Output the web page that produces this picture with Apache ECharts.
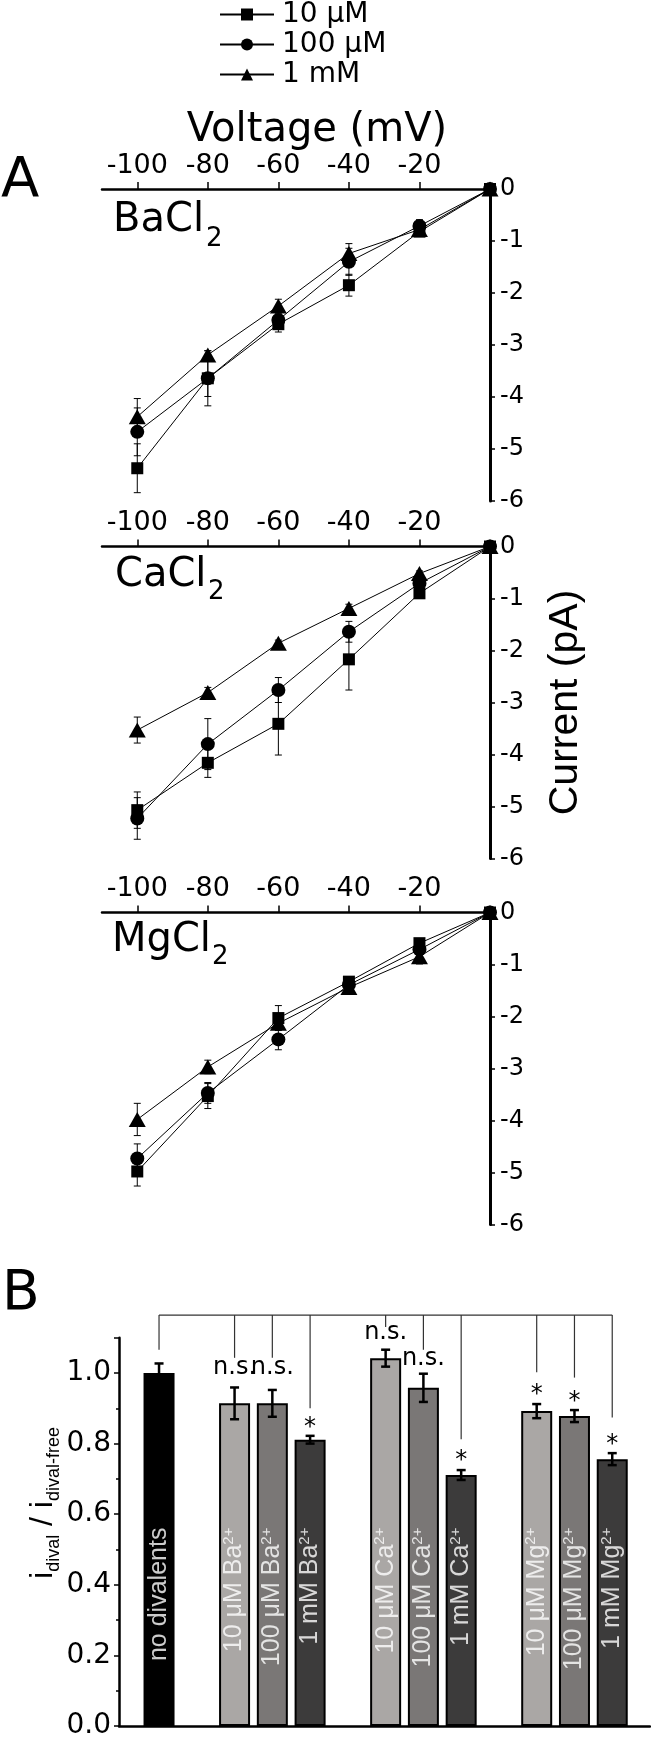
<!DOCTYPE html>
<html><head><meta charset="utf-8">
<script src="https://cdn.jsdelivr.net/npm/echarts@6/dist/echarts.min.js"></script>
<style>html,body{margin:0;padding:0;background:#fff}#c{width:651px;height:1740px}</style>
</head><body><div id="c"></div>
<script>
// ---------- DATA ----------
const voltage = [-100, -80, -60, -40, -20, 0];
const voltageTicks = [-100, -80, -60, -40, -20];
const concentrations = ['10 μM', '100 μM', '1 mM'];
const saltNames = ['BaCl', 'CaCl', 'MgCl'];

// BaCl2 currents (pA) and SEM
const ba10 = [-5.37, -3.64, -2.60, -1.85, -0.82, 0];
const ba10Err = [0.47, 0.53, 0.15, 0.21, 0.06, 0];
const ba100 = [-4.67, -3.64, -2.52, -1.40, -0.71, 0];
const ba100Err = [0.46, 0.35, 0.12, 0.26, 0.12, 0];
const ba1m = [-4.38, -3.19, -2.25, -1.24, -0.78, 0];
const ba1mErr = [0.35, 0.08, 0.13, 0.19, 0.06, 0];
// CaCl2
const ca10 = [-5.07, -4.16, -3.41, -2.17, -0.90, 0];
const ca10Err = [0.35, 0.28, 0.60, 0.59, 0.05, 0];
const ca100 = [-5.23, -3.80, -2.76, -1.64, -0.71, 0];
const ca100Err = [0.40, 0.49, 0.24, 0.20, 0.05, 0];
const ca1m = [-3.53, -2.81, -1.86, -1.19, -0.52, 0];
const ca1mErr = [0.25, 0.10, 0.06, 0.08, 0.05, 0];
// MgCl2
const mg10 = [-4.98, -3.53, -2.03, -1.33, -0.59, 0];
const mg10Err = [0.28, 0.24, 0.24, 0.05, 0.05, 0];
const mg100 = [-4.73, -3.47, -2.44, -1.39, -0.71, 0];
const mg100Err = [0.28, 0.20, 0.20, 0.05, 0.05, 0];
const mg1m = [-3.98, -2.97, -2.13, -1.44, -0.85, 0];
const mg1mErr = [0.31, 0.13, 0.10, 0.05, 0.14, 0];

// Panel B
const barPos = [0, 2, 3, 4, 6, 7, 8, 10, 11, 12];
const barValue = [1.000, 0.914, 0.914, 0.811, 1.042, 0.958, 0.711, 0.892, 0.878, 0.756];
const barError = [0.027, 0.045, 0.038, 0.011, 0.024, 0.040, 0.014, 0.020, 0.017, 0.017];
const barLabel = ['no divalents', '10 μM Ba', '100 μM Ba', '1 mM Ba', '10 μM Ca', '100 μM Ca', '1 mM Ca', '10 μM Mg', '100 μM Mg', '1 mM Mg'];
const barCharge = ['', '2+', '2+', '2+', '2+', '2+', '2+', '2+', '2+', '2+'];
const barShade = [0, 1, 2, 3, 1, 2, 3, 1, 2, 3];
const sigMark = ['', 'n.s.', 'n.s.', '*', 'n.s.', 'n.s.', '*', '*', '*', '*'];
const sigLineEnd = [1.066, 1.043, 1.043, 0.900, 1.130, 1.066, 0.812, 1.002, 0.987, 0.874];
const sigMarkY = [0, 1.009, 1.009, 0.860, 1.108, 1.035, 0.765, 0.953, 0.933, 0.812];
const bracketLevel = 1.164;
const ratioTicks = [0, 0.2, 0.4, 0.6, 0.8, 1.0];

// ---------- STYLE / LAYOUT ----------
const FONT = 'DejaVu Sans';
const RFONT = 'Liberation Sans';
const shadeColors = ['#000000', '#aaa7a5', '#7a7776', '#3c3b3b'];
const symbols = ['rect', 'circle', 'triangle'];
const symbolSizes = [12, 14, [17, 15]];
const currents = [[ba10, ba100, ba1m], [ca10, ca100, ca1m], [mg10, mg100, mg1m]];
const currentErrs = [[ba10Err, ba100Err, ba1mErr], [ca10Err, ca100Err, ca1mErr], [mg10Err, mg100Err, mg1mErr]];
const panelTops = [189, 546.5, 912.5];
const labelTopValue = 0.562;

function errRender(capW, lw) {
  return function (params, api) {
    const x = api.value(0), y = api.value(1), e = api.value(2);
    if (!e) return null;
    const t = api.coord([x, y + e]), b = api.coord([x, y - e]);
    const st = { stroke: '#000', lineWidth: lw };
    return { type: 'group', children: [
      { type: 'line', shape: { x1: t[0], y1: t[1], x2: b[0], y2: b[1] }, style: st },
      { type: 'line', shape: { x1: t[0] - capW / 2, y1: t[1], x2: t[0] + capW / 2, y2: t[1] }, style: st },
      { type: 'line', shape: { x1: b[0] - capW / 2, y1: b[1], x2: b[0] + capW / 2, y2: b[1] }, style: st }
    ]};
  };
}

const grid = [], xAxis = [], yAxis = [], series = [];
for (let p = 0; p < 3; p++) {
  grid.push({ left: 102, top: panelTops[p], width: 388, height: 312 });
  const xa = {
    type: 'value', gridIndex: p, position: 'top', min: -110, max: 0,
    axisLine: { onZero: false, lineStyle: { color: '#000', width: 2.5 } },
    axisTick: { show: true, customValues: voltageTicks, length: 7, lineStyle: { color: '#000', width: 1.5 } },
    axisLabel: { customValues: voltageTicks, fontSize: 27, fontFamily: FONT, color: '#000', margin: 10 },
    splitLine: { show: false }
  };
  if (p === 0) {
    xa.name = 'Voltage (mV)';
    xa.nameLocation = 'middle';
    xa.nameGap = 31;
    xa.nameTextStyle = { fontSize: 40, fontFamily: FONT, color: '#000', padding: [0, 0, 0, 42] };
  }
  xAxis.push(xa);
  const ya = {
    type: 'value', gridIndex: p, position: 'right', min: -6, max: 0, interval: 1,
    axisLine: { show: true, onZero: false, lineStyle: { color: '#000', width: 3 } },
    axisTick: { show: true, length: 5, lineStyle: { color: '#000', width: 1.5 } },
    axisLabel: { fontSize: 24, fontFamily: FONT, color: '#000', margin: 10 },
    splitLine: { show: false }
  };
  if (p === 1) {
    ya.name = 'Current (pA)';
    ya.nameLocation = 'middle';
    ya.nameRotate = 90;
    ya.nameGap = 55;
    ya.nameTextStyle = { fontSize: 41, fontFamily: RFONT, color: '#000' };
  }
  yAxis.push(ya);
  for (let c = 0; c < 3; c++) {
    series.push({
      type: 'custom', xAxisIndex: p, yAxisIndex: p, silent: true, z: 4, clip: false,
      data: voltage.map((v, i) => [v, currents[p][c][i], currentErrs[p][c][i]]),
      encode: { x: 0, y: 1 },
      renderItem: errRender(7, 1)
    });
    series.push({
      type: 'line', name: concentrations[c], xAxisIndex: p, yAxisIndex: p, z: 5, clip: false,
      data: voltage.map((v, i) => [v, currents[p][c][i]]),
      symbol: symbols[c], symbolSize: symbolSizes[c], showSymbol: true,
      itemStyle: { color: '#000' }, lineStyle: { color: '#000', width: 1 },
      emphasis: { disabled: true }
    });
  }
}

// Panel B
grid.push({ left: 119, top: 1337.7, width: 531, height: 391.3 });
xAxis.push({
  type: 'value', gridIndex: 3, min: -1.06, max: 13,
  axisLine: { onZero: false, lineStyle: { color: '#000', width: 2.5 } },
  axisTick: { show: false }, axisLabel: { show: false }, splitLine: { show: false }
});
yAxis.push({
  type: 'value', gridIndex: 3, min: 0, max: 1.1, interval: 0.2,
  axisLine: { show: true, onZero: false, lineStyle: { color: '#000', width: 2.5 } },
  axisTick: { show: true, length: 5, lineStyle: { color: '#000', width: 1.5 } },
  minorTick: { show: true, splitNumber: 2, length: 3, lineStyle: { color: '#000', width: 1.5 } },
  axisLabel: { fontSize: 28, fontFamily: FONT, color: '#000', margin: 8,
    formatter: v => (ratioTicks.some(t => Math.abs(t - v) < 1e-6) ? v.toFixed(1) : '') },
  splitLine: { show: false }
});

series.push({
  type: 'bar', xAxisIndex: 3, yAxisIndex: 3, barWidth: 31, z: 2,
  data: barPos.map((p, i) => ({ value: [p, barValue[i]], itemStyle: { color: shadeColors[barShade[i]] } })),
  itemStyle: { borderColor: '#000', borderWidth: 2 },
  emphasis: { disabled: true }
});
series.push({
  type: 'custom', xAxisIndex: 3, yAxisIndex: 3, silent: true, z: 3, clip: false,
  data: barPos.map((p, i) => [p, barValue[i], barError[i]]),
  encode: { x: 0, y: 1 },
  renderItem: errRender(9, 2.5)
});
series.push({
  type: 'scatter', xAxisIndex: 3, yAxisIndex: 3, silent: true, z: 6,
  symbolSize: 1, itemStyle: { color: 'transparent' },
  data: barPos.map((p, i) => ({
    value: [p, labelTopValue],
    label: { formatter: barCharge[i] ? '{t|' + barLabel[i] + '}{s|' + barCharge[i] + '}' : '{t|' + barLabel[i] + '}' }
  })),
  label: {
    show: true, position: 'inside', rotate: 90, align: 'right', verticalAlign: 'middle', color: '#fff',
    rich: {
      t: { fontSize: 25, fontFamily: RFONT, color: '#fff', lineHeight: 26, verticalAlign: 'middle' },
      s: { fontSize: 15, fontFamily: RFONT, color: '#fff', lineHeight: 26, verticalAlign: 'top' }
    }
  }
});
series.push({
  type: 'custom', xAxisIndex: 3, yAxisIndex: 3, silent: true, z: 5, clip: false,
  data: barPos.map((p, i) => [p, sigLineEnd[i], sigMarkY[i]]),
  encode: { x: 0, y: 1 },
  renderItem: function (params, api) {
    const i = params.dataIndex;
    const x = api.value(0);
    const top = api.coord([x, bracketLevel]);
    const bot = api.coord([x, api.value(1)]);
    const st = { stroke: '#333', lineWidth: 1.2 };
    const children = [{ type: 'line', shape: { x1: top[0], y1: top[1], x2: bot[0], y2: bot[1] }, style: st }];
    if (i === 0) {
      const r = api.coord([barPos[barPos.length - 1], bracketLevel]);
      children.push({ type: 'line', shape: { x1: top[0], y1: top[1], x2: r[0], y2: r[1] }, style: st });
    }
    if (sigMark[i]) {
      const m = api.coord([x, api.value(2)]);
      const star = sigMark[i] === '*';
      children.push({ type: 'text', x: m[0], y: m[1] + (star ? 5 : -2),
        style: { text: sigMark[i], fontSize: 24, fontFamily: FONT, fill: '#000',
          align: 'center', verticalAlign: 'middle', textAlign: 'center', textVerticalAlign: 'middle' } });
    }
    return { type: 'group', children };
  }
});

function txt(x, y, text, size, family) {
  return { type: 'text', x, y, silent: true,
    style: { text, fontSize: size, fontFamily: family || FONT, fill: '#000',
      align: 'left', verticalAlign: 'middle', textAlign: 'left', textVerticalAlign: 'middle' } };
}

const option = {
  animation: false,
  textStyle: { fontFamily: FONT },
  legend: {
    orient: 'vertical', left: 219, top: 0, padding: 0,
    itemWidth: 54, itemHeight: 15, itemGap: 1, selectedMode: false,
    data: concentrations,
    textStyle: { fontSize: 28, fontFamily: FONT, color: '#000', lineHeight: 29, padding: [0, 0, 0, 3] }
  },
  grid, xAxis, yAxis, series,
  graphic: [
    txt(1, 181, 'A', 56),
    txt(2, 1295, 'B', 55),
    txt(113, 221, saltNames[0], 40), txt(206, 239, '2', 26),
    txt(115, 576, saltNames[1], 40), txt(208, 592, '2', 26),
    txt(112, 941, saltNames[2], 40), txt(212, 957, '2', 26),
    { type: 'text', x: 43, y: 1503, rotation: Math.PI / 2, silent: true,
      style: { text: '{i|i}{s|dival}{i| / }{i|i}{s|dival-free}', fill: '#000',
        fontFamily: RFONT, fontSize: 32,
        align: 'center', verticalAlign: 'middle', textAlign: 'center', textVerticalAlign: 'middle',
        rich: {
          i: { fontSize: 32, fontFamily: RFONT, fill: '#000', lineHeight: 40, verticalAlign: 'middle' },
          s: { fontSize: 18, fontFamily: RFONT, fill: '#000', lineHeight: 40, verticalAlign: 'bottom' }
        } } }
  ]
};

const chart = echarts.init(document.getElementById('c'), null, { renderer: 'canvas' });
chart.setOption(option);
</script></body></html>
